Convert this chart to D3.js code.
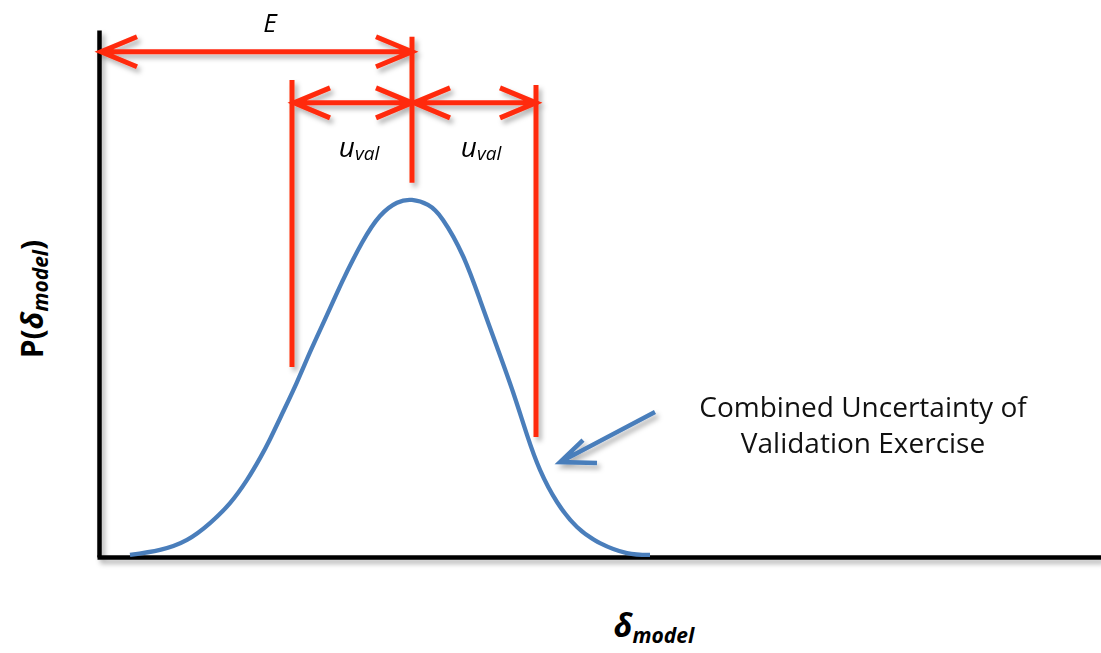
<!DOCTYPE html>
<html>
<head>
<meta charset="utf-8">
<script src="https://cdn.jsdelivr.net/npm/d3@7"></script>
<style>
  body { margin: 0; background: #fff; }
  svg { display: block; }
  text { font-family: "Open Sans", Lato, sans-serif; }
</style>
</head>
<body>
<div id="chart-area"></div>
<script>
// curve (delta_model, P)
const deltaValues = [0.31, 0.61, 0.88, 1.11, 1.31, 1.48, 1.61, 1.71, 1.84, 1.98, 2.12, 2.27, 2.43, 2.63, 2.81, 2.98, 3.13,
                     3.29, 3.44, 3.64, 3.81, 3.98, 4.14, 4.28, 4.41, 4.58, 4.78, 5.01, 5.28, 5.51];
const probValues  = [0.006, 0.020, 0.048, 0.095, 0.151, 0.216, 0.277, 0.330, 0.406, 0.490, 0.580, 0.672, 0.770, 0.880, 0.955, 0.992, 1.000,
                     0.986, 0.944, 0.843, 0.720, 0.588, 0.462, 0.342, 0.244, 0.154, 0.084, 0.039, 0.011, 0.006];

// measurement markers
const markerNames = ["uLeft", "peak", "uRight"];
const markerX     = [1.93, 3.13, 4.37];
const markerTop   = [1.336, 1.457, 1.322];
const markerBot   = [0.532, 1.048, 0.336];
const arrowLevels = [1.415, 1.272];   // E arrow, u_val arrows

const labelTexts = ["Combined Uncertainty of", "Validation Exercise"];
const pointerFrom = [5.56, 0.406];
const pointerTo   = [4.61, 0.266];

const width = 1101, height = 653;
const red = "#ff2a0a", blue = "#4a7ebb";

const svg = d3.select("#chart-area")
  .append("svg")
    .attr("width", width)
    .attr("height", height);

const defs = svg.append("defs");
defs.append("filter")
    .attr("id", "shadow")
    .attr("x", "-20%").attr("y", "-20%")
    .attr("width", "140%").attr("height", "140%")
  .append("feDropShadow")
    .attr("dx", 3).attr("dy", 4)
    .attr("stdDeviation", 2.5)
    .attr("flood-color", "#000")
    .attr("flood-opacity", 0.3);

const x = d3.scaleLinear().domain([0, 10.02]).range([99, 1101]);
const y = d3.scaleLinear().domain([0, 1.476]).range([557, 30]);

// axes (no ticks, just the heavy black lines)
const axes = svg.append("g").attr("filter", "url(#shadow)");
axes.append("g")
    .attr("transform", `translate(${x(0)},0)`)
    .call(d3.axisLeft(y).tickValues([]).tickSizeOuter(0))
    .select(".domain")
      .attr("stroke", "#000")
      .attr("stroke-width", 4.5);
axes.append("g")
    .attr("transform", `translate(0,${y(0)})`)
    .call(d3.axisBottom(x.copy().domain([-0.02, 10.02]).range([97, 1101])).tickValues([]).tickSizeOuter(0))
    .select(".domain")
      .attr("stroke", "#000")
      .attr("stroke-width", 4.5);

// distribution curve
const curveData = deltaValues.map((d, i) => ({ d: d, p: probValues[i] }));
svg.append("path")
    .datum(curveData)
    .attr("fill", "none")
    .attr("stroke", blue)
    .attr("stroke-width", 4.3)
    .attr("d", d3.line()
      .x(d => x(d.d))
      .y(d => y(d.p))
      .curve(d3.curveNatural));

// red measurement lines
const marks = svg.append("g")
    .attr("stroke", red)
    .attr("stroke-width", 5)
    .attr("fill", "none")
    .attr("filter", "url(#shadow)");

marks.selectAll(".vline")
  .data(markerNames)
  .enter().append("line")
    .attr("class", "vline")
    .attr("x1", (d, i) => x(markerX[i]))
    .attr("x2", (d, i) => x(markerX[i]))
    .attr("y1", (d, i) => y(markerTop[i]))
    .attr("y2", (d, i) => y(markerBot[i]));

const spans = [
  { from: 0, to: markerX[1], level: arrowLevels[0] },
  { from: markerX[0], to: markerX[1], level: arrowLevels[1] },
  { from: markerX[1], to: markerX[2], level: arrowLevels[1] }
];

function doubleArrow(s) {
  const x1 = x(s.from) + 2, x2 = x(s.to), yy = y(s.level);
  const ax = 36, ay = 15;
  return `M${x1},${yy}H${x2}` +
         `M${x1 + ax},${yy - ay}L${x1},${yy}L${x1 + ax},${yy + ay}` +
         `M${x2 - ax},${yy - ay}L${x2},${yy}L${x2 - ax},${yy + ay}`;
}

marks.selectAll(".span")
  .data(spans)
  .enter().append("path")
    .attr("class", "span")
    .attr("stroke-linejoin", "miter")
    .attr("d", doubleArrow);

// labels on the spans
svg.append("text")
    .attr("x", 270)
    .attr("y", 32)
    .attr("text-anchor", "middle")
    .style("font-size", "26px")
    .style("font-style", "italic")
    .text("E");

[[markerX[0], markerX[1]], [markerX[1], markerX[2]]].forEach(pair => {
  const t = svg.append("text")
      .attr("x", (x(pair[0]) + x(pair[1])) / 2 + 7)
      .attr("y", 157)
      .attr("text-anchor", "middle")
      .style("font-style", "italic");
  t.append("tspan").style("font-size", "28px").text("u");
  t.append("tspan").style("font-size", "19px").attr("dy", 3).text("val");
});

// annotation
const note = svg.append("text")
    .attr("text-anchor", "middle")
    .style("font-size", "28px")
    .style("fill", "#111");
note.selectAll("tspan")
  .data(labelTexts)
  .enter().append("tspan")
    .attr("x", 863)
    .attr("y", (d, i) => 417 + i * 36)
    .text(d => d);

const px1 = x(pointerFrom[0]), py1 = y(pointerFrom[1]);
const px2 = x(pointerTo[0]), py2 = y(pointerTo[1]);
svg.append("path")
    .attr("fill", "none")
    .attr("stroke", blue)
    .attr("stroke-width", 4.5)
    .attr("filter", "url(#shadow)")
    .attr("d", `M${px1},${py1}L${px2},${py2}M${px2 + 23},${py2 - 22}L${px2},${py2}L${px2 + 37},${py2 + 1}`);

// axis titles
const yTitle = svg.append("text")
    .attr("transform", "translate(43,299) rotate(-90)")
    .attr("text-anchor", "middle")
    .style("font-weight", "bold")
    .style("font-size", "30px");
yTitle.append("tspan").text("P(");
yTitle.append("tspan").style("font-style", "italic").text("δ");
yTitle.append("tspan").style("font-style", "italic").style("font-size", "21px").attr("dy", 5).text("model");
yTitle.append("tspan").attr("dy", -5).text(")");

const xTitle = svg.append("text")
    .attr("x", 654)
    .attr("y", 637)
    .attr("text-anchor", "middle")
    .style("font-weight", "bold")
    .style("font-style", "italic");
xTitle.append("tspan").style("font-size", "32px").text("δ");
xTitle.append("tspan").style("font-size", "21px").attr("dy", 6).text("model");
</script>
</body>
</html>
